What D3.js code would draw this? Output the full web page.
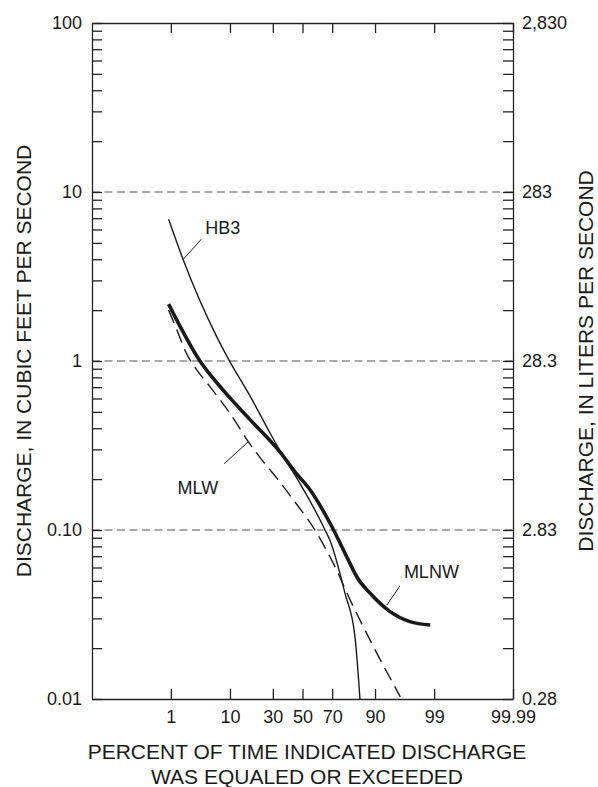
<!DOCTYPE html>
<html>
<head>
<meta charset="utf-8">
<script src="https://cdn.jsdelivr.net/npm/d3@7"></script>
<style>
  body { margin: 0; background: #fff; }
  svg { display: block; font-family: "Liberation Sans", Arial, Helvetica, sans-serif; }
  .axis path, .axis line { stroke: #222; stroke-width: 1.3; }
  .axis text { font-size: 18px; fill: #1a1a1a; font-family: "Liberation Sans", Arial, sans-serif; }
  .title { font-size: 21px; fill: #1a1a1a; }
  .curveLabel { font-size: 18px; fill: #1a1a1a; }
</style>
</head>
<body>
<svg id="chart" width="598" height="787"></svg>
<script>
// Flow-duration curves, probability x axis, log y axis

// tick values / labels
const xTickValues = [1, 10, 30, 50, 70, 90, 99, 99.99];
const xTickLabels = ["1", "10", "30", "50", "70", "90", "99", "99.99"];
const yTickValues = [0.01, 0.1, 1, 10, 100];
const yTickLabels = ["0.01", "0.10", "1", "10", "100"];
const litersTickLabels = ["0.28", "2.83", "28.3", "283", "2,830"];
const gridValues = [0.1, 1, 10];

// series: percent of time exceeded, discharge (cfs)
const hb3Percent   = [0.9, 1.76, 6.5, 9.5, 18.5, 28.3, 37.9, 48.2, 65.5, 68.6, 77.4, 82.3, 84.5];
const hb3Discharge = [6.9, 3.96, 1.39, 1.03, 0.595, 0.375, 0.262, 0.189, 0.1, 0.087, 0.042, 0.0234, 0.01];

const mlnwPercent   = [0.9, 3.5, 8.1, 17.7, 34.5, 44.7, 55.3, 68.6, 79.9, 83.1, 88.4, 93.9, 97.1, 98.8];
const mlnwDischarge = [2.17, 1.0, 0.67, 0.45, 0.29, 0.221, 0.173, 0.11, 0.0635, 0.0529, 0.0422, 0.0329, 0.0287, 0.0274];

const mlwPercent   = [0.9, 1.4, 2.0, 3.0, 5.1, 11.1, 16.9, 24.4, 33.4, 43.5, 58.7, 70.7, 80.8, 89.5, 95.8];
const mlwDischarge = [2.0, 1.465, 1.115, 0.897, 0.705, 0.458, 0.333, 0.254, 0.198, 0.151, 0.1, 0.0635, 0.0368, 0.0204, 0.0103];

// labels: name and the point on the curve the leader touches
const labelNames = ["HB3", "MLW", "MLNW"];
const labelPercent = [1.76, 16.9, 93.2];
const labelDischarge = [4.0, 0.333, 0.036];

// inverse normal cdf (Acklam)
function probit(p) {
  const a = [-3.969683028665376e+01, 2.209460984245205e+02, -2.759285104469687e+02, 1.383577518672690e+02, -3.066479806614716e+01, 2.506628277459239e+00];
  const b = [-5.447609879822406e+01, 1.615858368580409e+02, -1.556989798598866e+02, 6.680131188771972e+01, -1.328068155288572e+01];
  const c = [-7.784894002430293e-03, -3.223964580411365e-01, -2.400758277161838e+00, -2.549732539343734e+00, 4.374664141464968e+00, 2.938163982698783e+00];
  const d = [7.784695709041462e-03, 3.224671290700398e-01, 2.445134137142996e+00, 3.754408661907416e+00];
  const pl = 0.02425;
  let q, r;
  if (p < pl) {
    q = Math.sqrt(-2 * Math.log(p));
    return (((((c[0]*q+c[1])*q+c[2])*q+c[3])*q+c[4])*q+c[5]) / ((((d[0]*q+d[1])*q+d[2])*q+d[3])*q+1);
  } else if (p <= 1 - pl) {
    q = p - 0.5; r = q * q;
    return (((((a[0]*r+a[1])*r+a[2])*r+a[3])*r+a[4])*r+a[5])*q / (((((b[0]*r+b[1])*r+b[2])*r+b[3])*r+b[4])*r+1);
  }
  q = Math.sqrt(-2 * Math.log(1 - p));
  return -(((((c[0]*q+c[1])*q+c[2])*q+c[3])*q+c[4])*q+c[5]) / ((((d[0]*q+d[1])*q+d[2])*q+d[3])*q+1);
}

const plot = {left: 92, right: 513, top: 23, bottom: 699};

const zScale = d3.scaleLinear()
  .domain([probit(0.0001), probit(0.9999)])
  .range([plot.left, plot.right]);
const xPos = pct => zScale(probit(pct / 100));

const yScale = d3.scaleLog().domain([0.01, 100]).range([plot.bottom, plot.top]);

const svg = d3.select("#chart");

// dashed grid at decades
svg.append("g").selectAll("line")
  .data(gridValues).enter().append("line")
  .attr("x1", plot.left).attr("x2", plot.right)
  .attr("y1", d => yScale(d)).attr("y2", d => yScale(d))
  .attr("stroke", "#555").attr("stroke-width", 1.2)
  .attr("stroke-dasharray", "8,4.5");

// y axes (ticks inside)
const allYTicks = yScale.ticks();
const yLabel = d => {
  const i = yTickValues.findIndex(v => Math.abs(v - d) / v < 1e-6);
  return i < 0 ? "" : yTickLabels[i];
};
const litersLabel = d => {
  const i = yTickValues.findIndex(v => Math.abs(v - d) / v < 1e-6);
  return i < 0 ? "" : litersTickLabels[i];
};

svg.append("g").attr("class", "axis")
  .attr("transform", `translate(${plot.left},0)`)
  .call(d3.axisLeft(yScale).tickValues(allYTicks).tickFormat(yLabel)
    .tickSizeInner(-10).tickSizeOuter(0).tickPadding(10));

svg.append("g").attr("class", "axis")
  .attr("transform", `translate(${plot.right},0)`)
  .call(d3.axisRight(yScale).tickValues(allYTicks).tickFormat(litersLabel)
    .tickSizeInner(-10).tickSizeOuter(0).tickPadding(9));

// x axes
const xAxisScale = d3.scaleLinear().domain(zScale.domain()).range(zScale.range());
const xTickZ = xTickValues.map(v => probit(v / 100));

svg.append("g").attr("class", "axis")
  .attr("transform", `translate(0,${plot.bottom})`)
  .call(d3.axisBottom(xAxisScale).tickValues(xTickZ)
    .tickFormat((d, i) => xTickLabels[i])
    .tickSizeInner(-10).tickSizeOuter(0).tickPadding(11));

svg.append("g").attr("class", "axis")
  .attr("transform", `translate(0,${plot.top})`)
  .call(d3.axisTop(xAxisScale).tickValues(xTickZ).tickFormat("")
    .tickSizeInner(-10).tickSizeOuter(0));

svg.selectAll(".axis text").attr("font-size", null).attr("font-family", null);

// curves
const line = d3.line()
  .x(d => xPos(d[0]))
  .y(d => yScale(d[1]))
  .curve(d3.curveMonotoneX);

const series = [
  {name: "HB3", pct: hb3Percent, q: hb3Discharge, width: 1.4, dash: null},
  {name: "MLW", pct: mlwPercent, q: mlwDischarge, width: 1.4, dash: "14,7"},
  {name: "MLNW", pct: mlnwPercent, q: mlnwDischarge, width: 3.6, dash: null}
];

svg.append("g").attr("fill", "none")
  .selectAll("path").data(series).enter().append("path")
  .attr("d", s => line(s.pct.map((p, i) => [p, s.q[i]])))
  .attr("stroke", "#1a1a1a")
  .attr("stroke-width", s => s.width)
  .attr("stroke-dasharray", s => s.dash)
  .attr("stroke-linejoin", "round");

// curve labels with leader lines
const leaderEnd = [[18, -20], [-24, 22], [13, -19]];
const textOffset = [[22, -25, "start"], [-30, 52, "end"], [17, -27, "start"]];

labelNames.forEach((name, i) => {
  const ax = xPos(labelPercent[i]), ay = yScale(labelDischarge[i]);
  svg.append("line")
    .attr("x1", ax).attr("y1", ay)
    .attr("x2", ax + leaderEnd[i][0]).attr("y2", ay + leaderEnd[i][1])
    .attr("stroke", "#1a1a1a").attr("stroke-width", 1);
  svg.append("text").attr("class", "curveLabel")
    .attr("x", ax + textOffset[i][0]).attr("y", ay + textOffset[i][1])
    .attr("text-anchor", textOffset[i][2])
    .text(name);
});

// titles
svg.append("text").attr("class", "title")
  .attr("text-anchor", "middle")
  .attr("transform", `translate(31,${(plot.top + plot.bottom) / 2}) rotate(-90)`)
  .text("DISCHARGE, IN CUBIC FEET PER SECOND");

svg.append("text").attr("class", "title")
  .attr("text-anchor", "middle")
  .attr("transform", `translate(593,${(plot.top + plot.bottom) / 2}) rotate(-90)`)
  .text("DISCHARGE, IN LITERS PER SECOND");

svg.append("text").attr("class", "title")
  .attr("text-anchor", "middle")
  .attr("x", 307).attr("y", 759)
  .text("PERCENT OF TIME INDICATED DISCHARGE");

svg.append("text").attr("class", "title")
  .attr("text-anchor", "middle")
  .attr("x", 307).attr("y", 784)
  .text("WAS EQUALED OR EXCEEDED");
</script>
</body>
</html>
